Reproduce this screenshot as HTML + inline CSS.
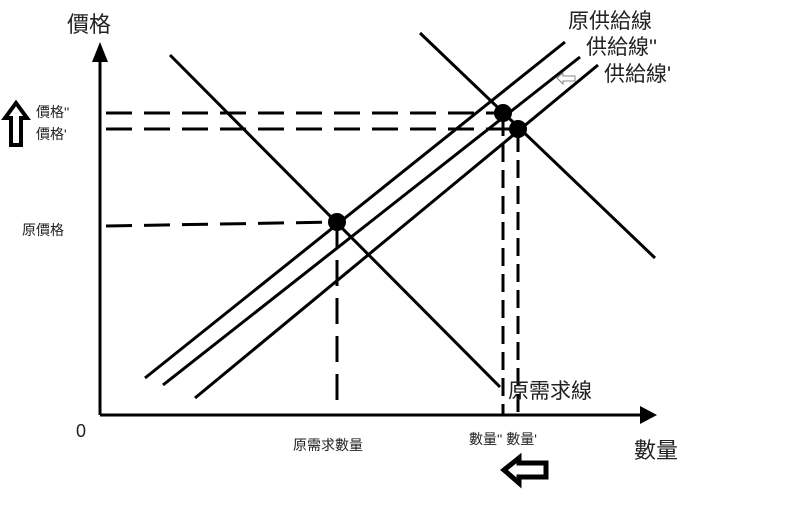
<!DOCTYPE html>
<html><head><meta charset="utf-8"><style>
body{margin:0;background:#fff}
svg text{font-family:"Liberation Sans","Noto Sans CJK TC",sans-serif;fill:#222}
</style></head><body>
<svg width="800" height="500" viewBox="0 0 800 500" xmlns="http://www.w3.org/2000/svg">
<g stroke="#000" stroke-width="3" fill="none">
<line x1="100" y1="415" x2="100" y2="55"/>
<line x1="100" y1="415" x2="645" y2="415"/>
<line x1="170" y1="55" x2="500" y2="387"/>
<line x1="420" y1="33" x2="655" y2="258"/>
<line x1="145" y1="378" x2="565" y2="42"/>
<line x1="163" y1="385" x2="580" y2="57"/>
<line x1="195" y1="398" x2="598" y2="65"/>
<g stroke-dasharray="26,12">
<line x1="106" y1="113" x2="503" y2="113"/>
<line x1="106" y1="129" x2="518" y2="129"/>
<line x1="106" y1="226" x2="337" y2="222"/>
<line x1="337" y1="222" x2="337" y2="405"/>
</g>
<g stroke-dasharray="18,8">
<line x1="503" y1="118" x2="503" y2="415"/>
<line x1="518" y1="134" x2="518" y2="415"/>
</g>
</g>
<polygon points="92,62 100,42 108,62" fill="#000"/>
<polygon points="640,406 657,415 640,424" fill="#000"/>
<circle cx="337" cy="222" r="9" fill="#000"/>
<circle cx="503" cy="113" r="9" fill="#000"/>
<circle cx="518" cy="129" r="9" fill="#000"/>
<polygon points="5,118 16,103 27,118 21,118 21,145 11,145 11,118" fill="none" stroke="#000" stroke-width="4"/>
<polygon points="504,470 519,458 519,463 546,463 546,477 519,477 519,483" fill="none" stroke="#000" stroke-width="5"/>
<polygon points="557,78 563,73 563,76 575,76 575,81 563,81 563,84" fill="none" stroke="#888" stroke-width="1"/>
<text x="67" y="32" font-size="22">價格</text>
<text x="36" y="117" font-size="14">價格''</text>
<text x="36" y="139" font-size="14">價格'</text>
<text x="22" y="235" font-size="14">原價格</text>
<text x="76" y="437" font-size="18">0</text>
<text x="293" y="450" font-size="14">原需求數量</text>
<text x="469" y="444" font-size="14">數量'' 數量'</text>
<text x="634" y="458" font-size="22">數量</text>
<text x="508" y="398" font-size="21">原需求線</text>
<text x="568" y="28" font-size="21">原供給線</text>
<text x="586" y="54" font-size="21">供給線''</text>
<text x="604" y="81" font-size="21">供給線'</text>
</svg>
</body></html>
